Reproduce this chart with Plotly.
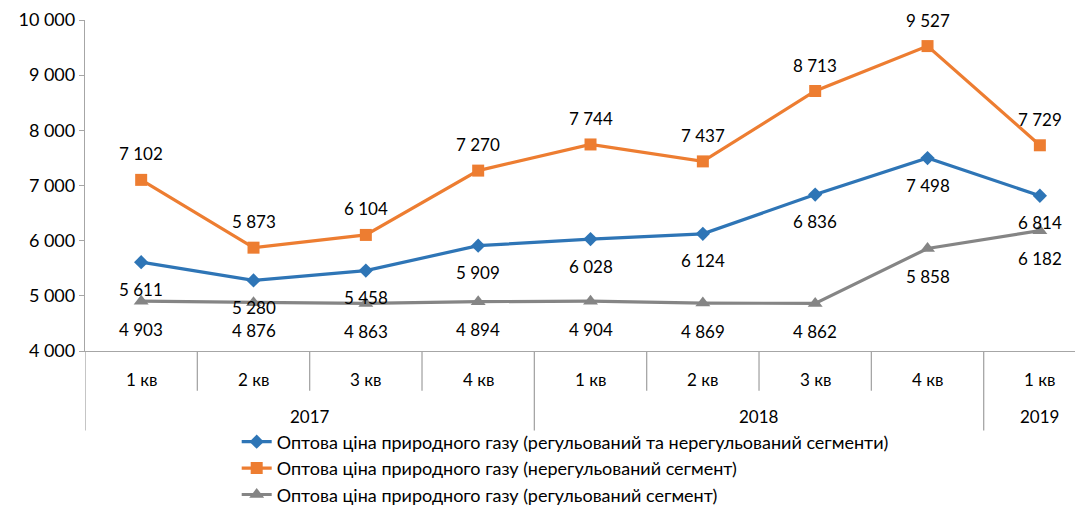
import plotly.graph_objects as go

quarters = ["1 кв", "2 кв", "3 кв", "4 кв", "1 кв", "2 кв", "3 кв", "4 кв", "1 кв"]
years = ["2017", "2018", "2019"]
year_spans = [(0, 3), (4, 7), (8, 8)]
total = [5611, 5280, 5458, 5909, 6028, 6124, 6836, 7498, 6814]
unregulated = [7102, 5873, 6104, 7270, 7744, 7437, 8713, 9527, 7729]
regulated = [4903, 4876, 4863, 4894, 4904, 4869, 4862, 5858, 6182]
names = [
    "Оптова ціна природного газу (регульований та нерегульований сегменти)",
    "Оптова ціна природного газу (нерегульований сегмент)",
    "Оптова ціна природного газу (регульований сегмент)",
]
y_ticks = [4000, 5000, 6000, 7000, 8000, 9000, 10000]

FONT = "Lato"
x = list(range(len(quarters)))

def fmt(v):
    return f"{v:,}".replace(",", " ")

fig = go.Figure()
series = [
    (total, names[0], "#2E75B6", "diamond", 11, 27),
    (unregulated, names[1], "#ED7D31", "square", 12, -26),
    (regulated, names[2], "#858585", "triangle-up", 13, 28),
]
annotations = []
for vals, name, color, sym, ms, shift in series:
    fig.add_trace(go.Scatter(
        x=x, y=vals, name=name, mode="lines+markers",
        line=dict(color=color, width=3.2),
        marker=dict(symbol=sym, size=ms, color=color),
    ))
    for xi, v in zip(x, vals):
        annotations.append(dict(x=xi, y=v, xref="x", yref="y", text=fmt(v),
                                showarrow=False, yshift=-shift,
                                font=dict(family=FONT, size=17, color="#000")))

# category labels
for xi, q in zip(x, quarters):
    annotations.append(dict(x=xi, y=-0.0876, xref="x", yref="paper", text=q,
                            yanchor="middle", xanchor="center",
                            showarrow=False, font=dict(family=FONT, size=17, color="#000")))
for (a, b), yr in zip(year_spans, years):
    annotations.append(dict(x=(a + b) / 2, y=-0.199, xref="x", yref="paper", text=yr,
                            yanchor="middle", xanchor="center",
                            showarrow=False, font=dict(family=FONT, size=17, color="#000")))

shapes = []
axis_col = "#A6A6A6"
for i in range(len(quarters) + 1):
    xb = i - 0.5
    long = xb in (-0.5, 3.5, 7.5, 8.5)
    shapes.append(dict(type="line", xref="x", yref="paper", x0=xb, x1=xb,
                       y0=0, y1=-0.24 if long else -0.12,
                       line=dict(color=axis_col, width=1.3)))

fig.update_layout(
    width=1075, height=499,
    margin=dict(l=77, r=0, t=12, b=156, autoexpand=False),
    paper_bgcolor="white", plot_bgcolor="white",
    showlegend=True,
    legend=dict(x=0.152, y=-0.219, xanchor="left", yanchor="top",
                orientation="v", font=dict(family=FONT, size=18, color="#000"),
                tracegroupgap=0, itemwidth=30, bgcolor="rgba(0,0,0,0)"),
    annotations=annotations, shapes=shapes,
    font=dict(family=FONT, size=16, color="#000"),
)
fig.update_xaxes(range=[-0.5, 8.384], showgrid=False, zeroline=False,
                 showticklabels=False, showline=True, linecolor=axis_col, linewidth=1.3,
                 ticks="")
fig.update_yaxes(range=[4000, 10000], tickvals=y_ticks,
                 ticktext=[fmt(v) for v in y_ticks],
                 showgrid=False, zeroline=False, showline=True,
                 linecolor=axis_col, linewidth=1.3, ticks="outside", ticklen=5,
                 tickcolor=axis_col, tickfont=dict(family=FONT, size=18, color="#000"))

fig.write_html("out.html")
